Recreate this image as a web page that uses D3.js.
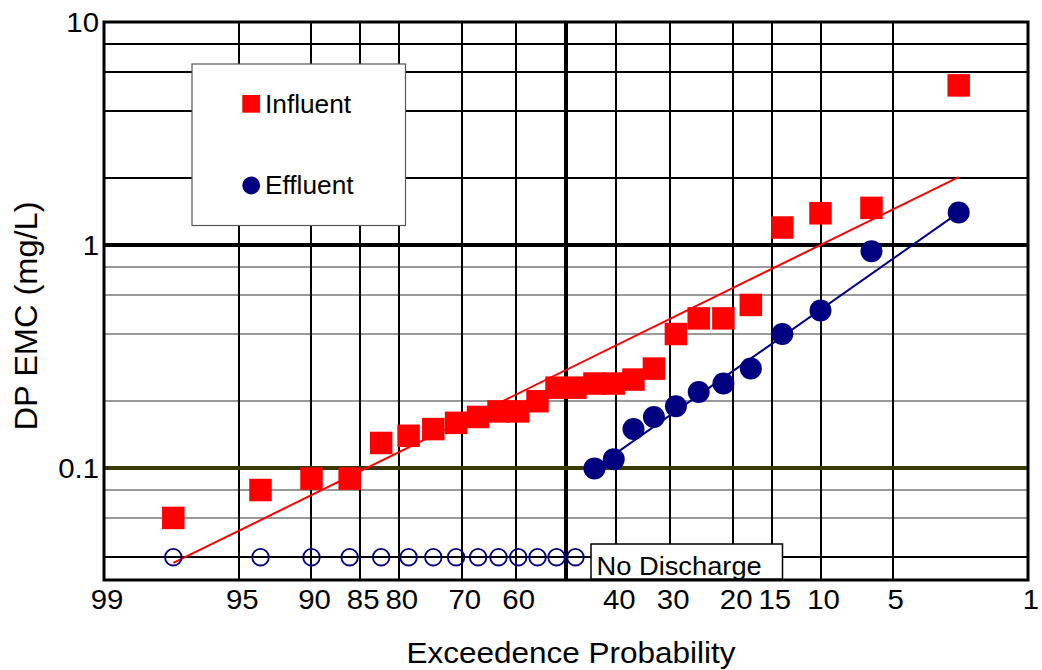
<!DOCTYPE html>
<html>
<head>
<meta charset="utf-8">
<script src="https://cdn.jsdelivr.net/npm/d3@7"></script>
<style>
  body { margin: 0; background: #fff; }
  svg { display: block; }
  text { font-family: "Liberation Sans", Arial, Helvetica, sans-serif; fill: #000; }
</style>
</head>
<body>
<svg id="chart" width="1042" height="670"></svg>
<script>
// Exceedance probability (%) of each ranked storm event, smallest EMC first
const exceedance = [97.6, 93.8, 90.0, 86.2, 82.4, 78.6, 74.8, 71.0, 67.1, 63.3, 59.5, 55.7, 51.9,
                    48.1, 44.3, 40.5, 36.7, 32.9, 29.0, 25.2, 21.4, 17.6, 13.8, 10.0, 6.2, 2.4];
// Dissolved phosphorus event mean concentrations, mg/L
const influent = [0.06, 0.08, 0.09, 0.09, 0.13, 0.14, 0.15, 0.16, 0.17, 0.18, 0.18, 0.20, 0.23,
                  0.23, 0.24, 0.24, 0.25, 0.28, 0.40, 0.47, 0.47, 0.54, 1.2, 1.39, 1.47, 5.2];
// null marks an event with no discharge from the outlet
const effluent = [null, null, null, null, null, null, null, null, null, null, null, null, null,
                  null, 0.10, 0.11, 0.15, 0.17, 0.19, 0.22, 0.24, 0.28, 0.40, 0.51, 0.94, 1.4];
const noDischargeLevel = 0.04;
// Lognormal fit lines: [exceedance, value] end points
const influentFitP = [97.6, 2.4];
const influentFitV = [0.0377, 2.02];
const effluentFitP = [44.3, 2.4];
const effluentFitV = [0.100, 1.40];
// Probability grid and its labels
const probTicks  = [99, 95, 90, 85, 80, 70, 60, 50, 40, 30, 20, 15, 10, 5, 1];
const probLabels = ["99", "95", "90", "85", "80", "70", "60", "", "40", "30", "20", "15", "10", "5", "1"];
const yTickValues = [10, 1, 0.1];
const yTickLabels = ["10", "1", "0.1"];
const minorMultiples = [2, 4, 6, 8];

// Standard normal quantile (Acklam's rational approximation)
function probit(p) {
  const a = [-3.969683028665376e+01, 2.209460984245205e+02, -2.759285104469687e+02,
              1.383577518672690e+02, -3.066479806614716e+01, 2.506628277459239e+00];
  const b = [-5.447609879822406e+01, 1.615858368580409e+02, -1.556989798598866e+02,
              6.680131188771972e+01, -1.328068155288572e+01];
  const c = [-7.784894002430293e-03, -3.223964580411365e-01, -2.400758277161838e+00,
             -2.549732539343734e+00, 4.374664141464968e+00, 2.938163982698783e+00];
  const d = [7.784695709041462e-03, 3.224671290700398e-01, 2.445134137142996e+00,
             3.754408661907416e+00];
  const pl = 0.02425, ph = 1 - pl;
  let q, r;
  if (p < pl) {
    q = Math.sqrt(-2 * Math.log(p));
    return (((((c[0]*q + c[1])*q + c[2])*q + c[3])*q + c[4])*q + c[5]) /
           ((((d[0]*q + d[1])*q + d[2])*q + d[3])*q + 1);
  }
  if (p <= ph) {
    q = p - 0.5; r = q * q;
    return (((((a[0]*r + a[1])*r + a[2])*r + a[3])*r + a[4])*r + a[5]) * q /
           (((((b[0]*r + b[1])*r + b[2])*r + b[3])*r + b[4])*r + 1);
  }
  q = Math.sqrt(-2 * Math.log(1 - p));
  return -(((((c[0]*q + c[1])*q + c[2])*q + c[3])*q + c[4])*q + c[5]) /
          ((((d[0]*q + d[1])*q + d[2])*q + d[3])*q + 1);
}

const svg = d3.select("#chart");
const plotLeft = 104, plotRight = 1028, plotTop = 22, plotBottom = 580;

// Normal-probability x scale (exceedance, high on the left) and log y scale
const zScale = d3.scaleLinear().domain([probit(0.01), probit(0.99)]).range([plotLeft, plotRight]);
const x = p => zScale(probit(1 - p / 100));
const y = d3.scaleLog().domain([Math.pow(10, -1.5), 10]).range([plotBottom, plotTop]);
// Grid lines snapped to whole pixels so they stay crisp
const xs = p => Math.round(x(p));
const ys = v => Math.round(y(v));

const STRETCH = 1.05;
function addText(parent, px, py, str, size, anchor, rotate) {
  const g = parent.append("g")
    .attr("transform", `translate(${px},${py})` + (rotate ? ` rotate(${rotate})` : "") + ` scale(${STRETCH},1)`);
  g.append("text").attr("text-anchor", anchor || "start").attr("font-size", size).text(str);
  return g;
}

const grid = svg.append("g");

// Horizontal grid: gray below 1, black in the top decade
const minorVals = [];
[0.01, 0.1, 1].forEach(dec => minorMultiples.forEach(m => {
  const v = +(dec * m).toPrecision(3);
  if (v > y.domain()[0] && v < 10 && v !== noDischargeLevel) minorVals.push(v);
}));
grid.selectAll("line.hminor").data(minorVals).join("line")
  .attr("x1", plotLeft).attr("x2", plotRight)
  .attr("y1", d => ys(d)).attr("y2", d => ys(d))
  .attr("stroke", d => d > 1 ? "#000" : "#999")
  .attr("stroke-width", 2);

// Vertical probability grid
grid.selectAll("line.v").data(probTicks.filter(p => p !== 99 && p !== 1)).join("line")
  .attr("x1", d => xs(d)).attr("x2", d => xs(d))
  .attr("y1", plotTop).attr("y2", plotBottom)
  .attr("stroke", "#000")
  .attr("stroke-width", d => d === 50 ? 4 : 2);

// Decade lines
grid.append("line").attr("x1", plotLeft).attr("x2", plotRight)
  .attr("y1", ys(1)).attr("y2", ys(1)).attr("stroke", "#000").attr("stroke-width", 4);
grid.append("line").attr("x1", plotLeft).attr("x2", plotRight)
  .attr("y1", ys(0.1)).attr("y2", ys(0.1)).attr("stroke", "#3a3a08").attr("stroke-width", 4);

// No-discharge level
grid.append("line").attr("x1", plotLeft).attr("x2", plotRight)
  .attr("y1", ys(noDischargeLevel)).attr("y2", ys(noDischargeLevel))
  .attr("stroke", "#000").attr("stroke-width", 2);

// Plot frame
grid.append("rect").attr("x", plotLeft).attr("y", plotTop)
  .attr("width", plotRight - plotLeft).attr("height", plotBottom - plotTop)
  .attr("fill", "none").attr("stroke", "#000").attr("stroke-width", 3);

// Fit lines
const fitLine = d3.line().x(d => x(d[0])).y(d => y(d[1]));
svg.append("path").attr("d", fitLine(d3.zip(influentFitP, influentFitV)))
  .attr("fill", "none").attr("stroke", "#ff0000").attr("stroke-width", 2);
svg.append("path").attr("d", fitLine(d3.zip(effluentFitP, effluentFitV)))
  .attr("fill", "none").attr("stroke", "#000080").attr("stroke-width", 2);

// Effluent: no-discharge events as open circles
const noDis = exceedance.filter((p, i) => effluent[i] === null);
svg.append("g").selectAll("circle").data(noDis).join("circle")
  .attr("cx", d => x(d)).attr("cy", y(noDischargeLevel)).attr("r", 8.3)
  .attr("fill", "none").attr("stroke", "#000080").attr("stroke-width", 1.8);

// Influent squares
const sq = 22.5;
svg.append("g").selectAll("rect").data(d3.zip(exceedance, influent)).join("rect")
  .attr("x", d => x(d[0]) - sq / 2).attr("y", d => y(d[1]) - sq / 2)
  .attr("width", sq).attr("height", sq).attr("fill", "#ff0000");

// Effluent filled circles
svg.append("g").selectAll("circle")
  .data(d3.zip(exceedance, effluent).filter(d => d[1] !== null)).join("circle")
  .attr("cx", d => x(d[0])).attr("cy", d => y(d[1])).attr("r", 11)
  .attr("fill", "#000080");

// Legend
const lg = svg.append("g");
lg.append("rect").attr("x", 192).attr("y", 64).attr("width", 213.5).attr("height", 161.5)
  .attr("fill", "#fff").attr("stroke", "#555").attr("stroke-width", 1.2);
lg.append("rect").attr("x", 242.3).attr("y", 95).attr("width", 17.7).attr("height", 17.7).attr("fill", "#ff0000");
addText(lg, 265, 112.5, "Influent", 25, "start");
lg.append("circle").attr("cx", 251.2).attr("cy", 185.5).attr("r", 8.9).attr("fill", "#000080");
addText(lg, 265, 193.5, "Effluent", 25, "start");

// No discharge note
const nd = svg.append("g");
nd.append("rect").attr("x", 591).attr("y", 544).attr("width", 191.5).attr("height", 35)
  .attr("fill", "#fff").attr("stroke", "#000").attr("stroke-width", 1.5);
addText(nd, 596.5, 574.5, "No Discharge", 26, "start");

// Axis tick labels
const ax = svg.append("g");
probTicks.forEach((p, i) => {
  if (probLabels[i]) addText(ax, x(p) + 3, 609, probLabels[i], 28, "middle");
});
yTickValues.forEach((v, i) => addText(ax, 99, y(v) + 10, yTickLabels[i], 28, "end"));

// Axis titles
addText(svg, (plotLeft + plotRight) / 2 + 5, 663, "Exceedence Probability", 30, "middle");
addText(svg, 37, 316, "DP EMC (mg/L)", 31, "middle", -90);
</script>
</body>
</html>
